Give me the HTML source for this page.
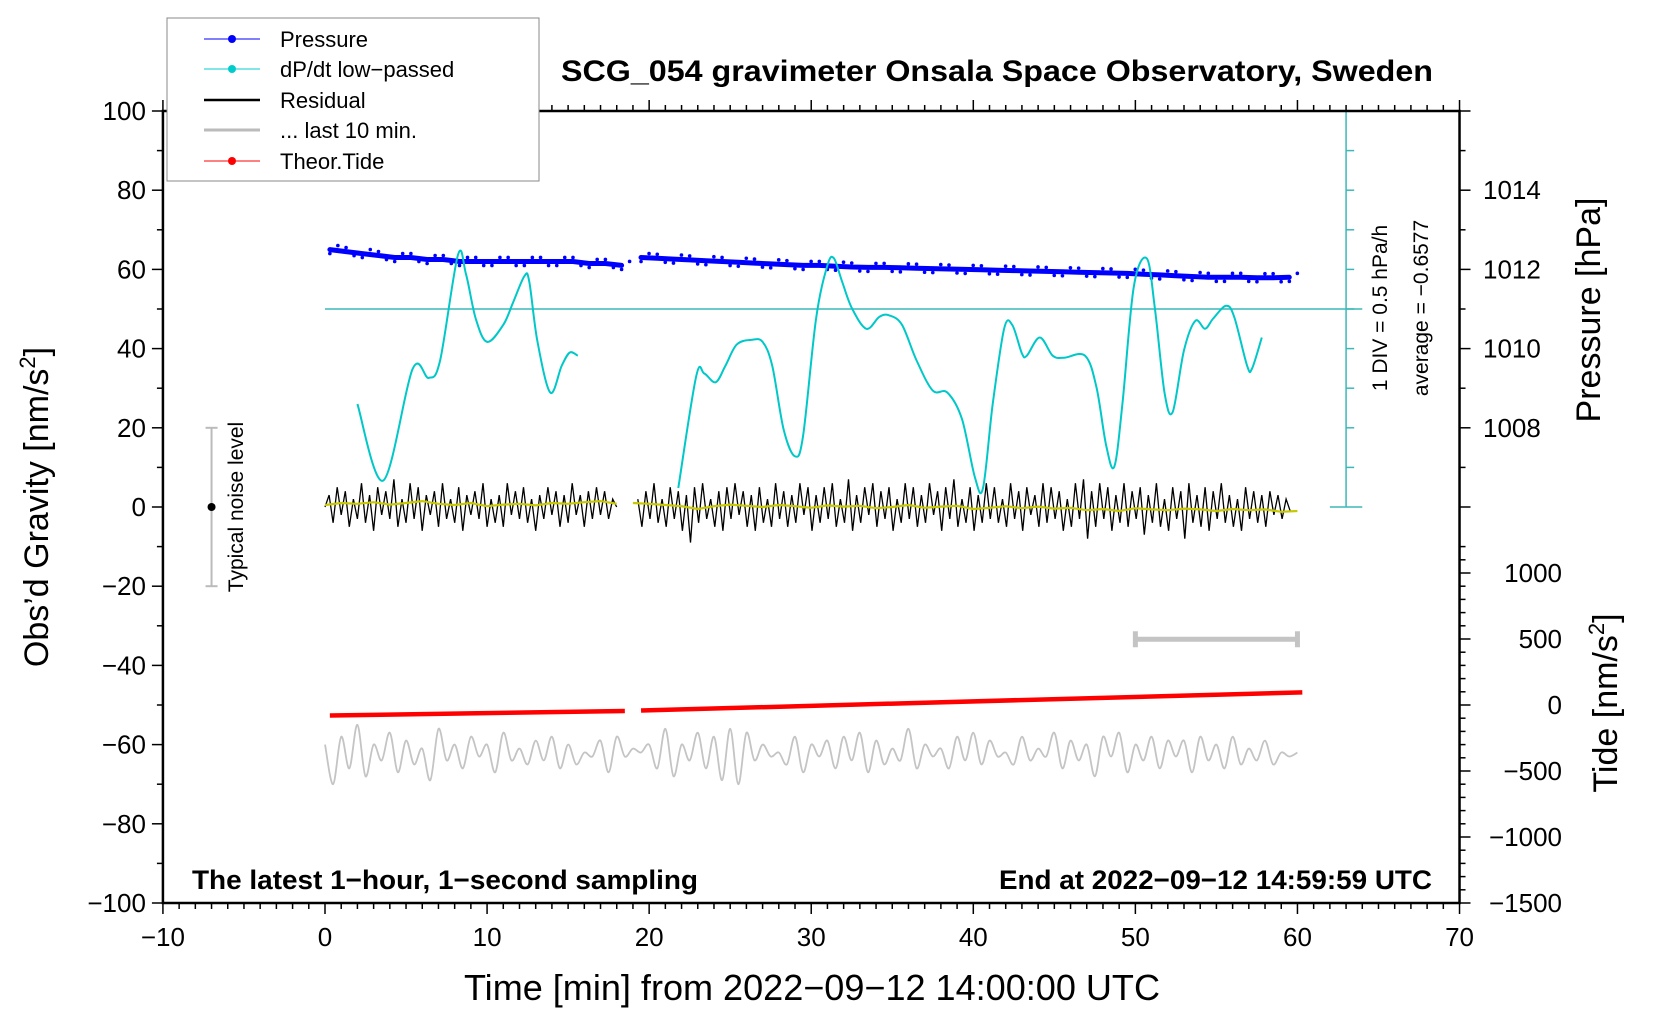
<!DOCTYPE html>
<html><head><meta charset="utf-8"><style>
html,body{margin:0;padding:0;background:#fff;}
svg{display:block;font-family:"Liberation Sans",sans-serif;}
</style></head><body>
<svg id="chart" width="1660" height="1020" viewBox="0 0 1660 1020" xmlns="http://www.w3.org/2000/svg">
<rect x="0" y="0" width="1660" height="1020" fill="#fff"/>
<g id="plot"></g>
<g id="axes"></g>
<text x="997" y="81" text-anchor="middle" font-size="30" font-weight="bold" textLength="872" lengthAdjust="spacingAndGlyphs">SCG_054 gravimeter Onsala Space Observatory, Sweden</text>
<text x="192" y="889" font-size="27" font-weight="bold" textLength="506" lengthAdjust="spacingAndGlyphs">The latest 1−hour, 1−second sampling</text>
<text x="1432" y="889" text-anchor="end" font-size="27" font-weight="bold" textLength="433" lengthAdjust="spacingAndGlyphs">End at 2022−09−12 14:59:59 UTC</text>
<text x="812" y="1000" text-anchor="middle" font-size="36" textLength="696" lengthAdjust="spacingAndGlyphs">Time [min] from 2022−09−12 14:00:00 UTC</text>
<text transform="translate(48,507) rotate(-90)" text-anchor="middle" font-size="34">Obs’d Gravity [nm/s<tspan font-size="22" dy="-13">2</tspan><tspan dy="13">]</tspan></text>
<text transform="translate(1600,310) rotate(-90)" text-anchor="middle" font-size="34">Pressure [hPa]</text>
<text transform="translate(1617,703) rotate(-90)" text-anchor="middle" font-size="34">Tide [nm/s<tspan font-size="22" dy="-13">2</tspan><tspan dy="13">]</tspan></text>
<text transform="translate(1387,308) rotate(-90)" text-anchor="middle" font-size="21">1 DIV = 0.5 hPa/h</text>
<text transform="translate(1428,308) rotate(-90)" text-anchor="middle" font-size="21">average = −0.6577</text>
<text transform="translate(243,507) rotate(-90)" text-anchor="middle" font-size="21">Typical noise level</text>
<g>
<rect x="167" y="18" width="372" height="163" fill="#fff" stroke="#888" stroke-width="1"/>
<line x1="204" y1="39" x2="260" y2="39" stroke="#0000ff" stroke-width="1"/><circle cx="232" cy="39" r="4" fill="#0000ff"/>
<text x="280" y="47" font-size="22">Pressure</text>
<line x1="204" y1="69" x2="260" y2="69" stroke="#00cccc" stroke-width="1"/><circle cx="232" cy="69" r="4" fill="#00cccc"/>
<text x="280" y="77" font-size="22">dP/dt low−passed</text>
<line x1="204" y1="100" x2="260" y2="100" stroke="#000" stroke-width="2.5"/>
<text x="280" y="108" font-size="22">Residual</text>
<line x1="204" y1="130" x2="260" y2="130" stroke="#bbb" stroke-width="3"/>
<text x="280" y="138" font-size="22">... last 10 min.</text>
<line x1="204" y1="161" x2="260" y2="161" stroke="#ff0000" stroke-width="1"/><circle cx="232" cy="161" r="4" fill="#ff0000"/>
<text x="280" y="169" font-size="22">Theor.Tide</text>
</g>
</svg>
<script>
// ---- data ----
const xTicks = [-10,0,10,20,30,40,50,60,70];
const yTicks = [-100,-80,-60,-40,-20,0,20,40,60,80,100];
const pressureTicks = [1008,1010,1012,1014];
const tideTicks = [-1500,-1000,-500,0,500,1000];
// pressure (hPa), one value per minute
const pressure1Start = 0.3;
const pressure1 = [1012.5,1012.45,1012.4,1012.35,1012.3,1012.3,1012.25,1012.25,1012.2,1012.2,1012.2,1012.2,1012.2,1012.2,1012.2,1012.2,1012.15,1012.15,1012.1];
const pressure2Start = 19.5;
const pressure2 = [1012.3,1012.28,1012.26,1012.24,1012.22,1012.2,1012.18,1012.16,1012.14,1012.12,1012.1,1012.1,1012.08,1012.06,1012.05,1012.05,1012.04,1012.03,1012.02,1012.01,1012.0,1011.99,1011.98,1011.97,1011.96,1011.95,1011.94,1011.93,1011.92,1011.91,1011.9,1011.88,1011.86,1011.84,1011.82,1011.8,1011.8,1011.8,1011.79,1011.79,1011.8];
// dP/dt low-passed, plotted in gravity units
const dpdt1X = [2.0,3.6,5.4,6.4,7.1,8.2,8.7,9.3,10.0,11.0,11.6,12.3,12.6,13.1,13.9,14.6,15.1,15.6];
const dpdt1Y = [26,6.7,34.8,32.6,37,63.6,58.8,47.6,41.7,46,51.6,58.3,57,42,28.9,35.6,39,38.2];
const dpdt2X = [21.8,22.9,23.4,24.1,24.7,25.4,26.3,27.0,27.6,28.3,29.0,29.5,30.3,31.0,31.4,31.9,32.5,33.4,34.2,34.8,35.6,36.5,37.5,38.4,39.3,40.1,40.6,41.2,41.9,42.4,43.0,43.3,44.1,44.9,45.6,46.9,47.6,48.2,48.7,49.2,49.9,50.7,51.2,51.8,52.3,53.0,53.7,54.3,54.8,55.6,56.1,56.9,57.2,57.8];
const dpdt2Y = [4.8,33,33.7,31.5,35.6,41,42.2,41.7,35.6,19.5,12.8,18,47.6,61,62.8,57,50.3,45,48,48.4,46,37,29.4,28.9,22.2,7.5,4.8,26,45,46,38.8,38.2,42.8,38.2,37.7,38.2,30.2,15.5,10.2,26,55.6,62.8,50.3,28.9,24,39.6,47,45,47.6,50.8,48,35.6,35,42.8];
// residual (nm/s^2), sampled every 0.25 min
const resStep = 0.25;
const res1Start = 0;
const res1 = [0,3,-4,5,-2,4,-5,2,-3,6,-4,3,-6,5,-2,4,-3,7,-5,2,-4,6,-3,5,-6,3,-2,4,-5,6,-3,2,-4,5,-6,3,-2,4,-3,6,-5,2,-4,3,-5,6,-2,4,-3,5,-4,2,-6,3,-3,5,-2,4,-5,3,-4,6,-2,3,-5,4,-3,5,-2,4,-3,2,0];
const res2Start = 19.3;
const res2 = [2,-5,4,-3,6,-4,2,-5,5,-3,4,-6,3,-9,5,-4,6,-3,2,-5,4,-6,5,-3,6,-2,4,-5,3,-6,5,-4,2,-5,6,-3,4,-5,3,-4,6,-2,5,-6,3,-4,5,-3,6,-5,2,-4,7,-6,3,-4,5,-2,6,-5,4,-3,5,-6,2,-4,6,-3,5,-5,3,-4,6,-2,4,-6,5,-3,7,-5,2,-4,5,-6,3,-4,6,-3,5,-4,2,-5,6,-3,4,-6,5,-2,3,-5,6,-4,5,-3,4,-6,2,-5,6,-3,7,-8,4,-5,6,-3,5,-6,3,-4,6,-5,4,-3,5,-7,3,-4,6,-5,2,-6,5,-3,4,-8,6,-4,3,-5,5,-6,4,-3,6,-4,3,-5,2,-6,5,-3,4,-4,3,-5,4,-2,3,-3,2,-1];
// smoothed residual, one value per minute
const smooth1 = [0.5,1,0.8,1.2,0.6,1,1.5,0.8,0.5,1,0.2,0.6,0.8,0.4,1,0.8,1.2,1.5,0.8];
const smooth2Start = 19;
const smooth2 = [1,0.8,0.5,0.2,-0.5,0.2,0.6,0.3,0,0.5,0.2,-0.2,0.4,0.1,0.3,-0.3,0,0.5,-0.2,0.1,0.3,-0.5,-0.2,0.2,-0.3,0.1,-0.4,-0.2,-0.8,-0.5,-1,-0.3,-0.6,-0.8,-0.4,-0.6,-1,-0.5,-0.8,-0.6,-1.2,-1.0];
// last 10 min residual (plotted offset), every 0.5 min
const lastStep = 0.5;
const last10 = [-60,-70,-58,-66,-55,-68,-60,-64,-57,-67,-59,-65,-61,-69,-56,-64,-60,-66,-58,-63,-60,-67,-57,-64,-61,-65,-59,-64,-58,-66,-60,-65,-62,-63,-59,-67,-58,-63,-61,-62,-60,-66,-56,-68,-60,-64,-57,-66,-58,-69,-56,-70,-57,-64,-60,-63,-62,-65,-58,-67,-60,-63,-59,-66,-58,-64,-57,-67,-59,-65,-61,-64,-56,-66,-60,-63,-61,-66,-58,-64,-57,-65,-59,-63,-62,-65,-58,-64,-61,-63,-57,-66,-59,-64,-60,-68,-58,-63,-57,-67,-60,-64,-58,-66,-59,-63,-59,-67,-58,-64,-60,-66,-58,-65,-61,-64,-59,-65,-62,-63,-62];
// theoretical tide (nm/s^2)
const tideX = [0.3,18.5,19.5,60.3];
const tideY = [-80,-45,-42,96];
// noise bars
const noiseX = -7, noiseLow = -20, noiseHigh = 20;
const rangeX0 = 50, rangeX1 = 60, rangeY = -33.4;

// ---- axes functions ----
const X = x => 325 + (x) * 16.2075;
const Y = g => 507 - g * 3.96;
const P2G = p => (p - 1006) * 10;
const T2G = t => t / 30 - 50;
const NS = 'http://www.w3.org/2000/svg';
const plot = document.getElementById('plot');
const axes = document.getElementById('axes');
function mk(tag, attrs, parent){ const e=document.createElementNS(NS,tag); for(const k in attrs) e.setAttribute(k,attrs[k]); parent.appendChild(e); return e; }
function pathOf(xs, ys){ return xs.map((x,i)=>(i?'L':'M')+X(x).toFixed(1)+' '+Y(ys[i]).toFixed(1)).join(''); }
function smoothPath(xs, ys){
  const P = xs.map((x,i)=>[X(x),Y(ys[i])]);
  let d = 'M'+P[0][0].toFixed(1)+' '+P[0][1].toFixed(1);
  for(let i=0;i<P.length-1;i++){
    const p0=P[Math.max(0,i-1)], p1=P[i], p2=P[i+1], p3=P[Math.min(P.length-1,i+2)];
    const c1=[p1[0]+(p2[0]-p0[0])/6, p1[1]+(p2[1]-p0[1])/6];
    const c2=[p2[0]-(p3[0]-p1[0])/6, p2[1]-(p3[1]-p1[1])/6];
    d += 'C'+c1[0].toFixed(1)+' '+c1[1].toFixed(1)+' '+c2[0].toFixed(1)+' '+c2[1].toFixed(1)+' '+p2[0].toFixed(1)+' '+p2[1].toFixed(1);
  }
  return d;
}

// pressure
[[pressure1Start,pressure1],[pressure2Start,pressure2]].forEach(([s,arr])=>{
  const xs = arr.map((v,i)=>s+i);
  const ys = arr.map(P2G);
  const p = mk('path',{d:pathOf(xs,ys),fill:'none',stroke:'#0000ff','stroke-width':5,'stroke-linecap':'round'},plot);
  
  
  arr.forEach((v,i)=>{
    [-4,4].forEach((o,j)=>{
      const c = mk('circle',{cx:X(xs[i])+(j?8:0),cy:Y(P2G(v))+((i%2)?o:-o),r:1.8,fill:'#0000ff'},plot);
      
      
    });
  });
});

// dpdt reference line and axis
const ref = mk('line',{x1:X(0),y1:Y(50),x2:X(64),y2:Y(50),stroke:'#3cb8b8','stroke-width':1.5},plot);


const dax = mk('line',{x1:X(63),y1:Y(0),x2:X(63),y2:Y(100),stroke:'#3cb8b8','stroke-width':1.5},plot);


for(let g=0; g<=100; g+=10){
  const e = (g===0||g===100) ? [62,64] : [63,63.5];
  const t = mk('line',{x1:X(e[0]),y1:Y(g),x2:X(e[1]),y2:Y(g),stroke:'#3cb8b8','stroke-width':1.5},plot);
  
  
}
[[dpdt1X,dpdt1Y],[dpdt2X,dpdt2Y]].forEach(([xs,ys])=>{
  const p = mk('path',{d:smoothPath(xs,ys),fill:'none',stroke:'#00c8c8','stroke-width':2,'stroke-linejoin':'round'},plot);
  
  
});

// residual
[[res1Start,res1],[res2Start,res2]].forEach(([s,arr])=>{
  const xs = arr.map((v,i)=>s+i*resStep);
  const p = mk('path',{d:pathOf(xs,arr),fill:'none',stroke:'#000','stroke-width':1.3},plot);
  
  
});
[[0,smooth1],[smooth2Start,smooth2]].forEach(([s,arr])=>{
  const xs = arr.map((v,i)=>s+i);
  const p = mk('path',{d:pathOf(xs,arr),fill:'none',stroke:'#c8c800','stroke-width':2.2},plot);
  
  
});

// last 10 min
{
  const xs = last10.map((v,i)=>i*lastStep);
  const p = mk('path',{d:smoothPath(xs,last10),fill:'none',stroke:'#c4c4c4','stroke-width':1.8},plot);
  
  
}

// tide
[[0,1],[2,3]].forEach(([a,b])=>{
  const p = mk('line',{x1:X(tideX[a]),y1:Y(T2G(tideY[a])),x2:X(tideX[b]),y2:Y(T2G(tideY[b])),stroke:'#ff0000','stroke-width':4.5},plot);
  
  
});

// noise bar
{
  const g = mk('g',{stroke:'#bbb','stroke-width':2},plot);
  
  
  mk('line',{x1:X(noiseX),y1:Y(noiseLow),x2:X(noiseX),y2:Y(noiseHigh)},g);
  mk('line',{x1:X(noiseX)-6,y1:Y(noiseLow),x2:X(noiseX)+6,y2:Y(noiseLow)},g);
  mk('line',{x1:X(noiseX)-6,y1:Y(noiseHigh),x2:X(noiseX)+6,y2:Y(noiseHigh)},g);
  const c = mk('circle',{cx:X(noiseX),cy:Y(0),r:4,fill:'#000',stroke:'none'},plot);
  
  
  const r = mk('g',{stroke:'#c4c4c4','stroke-width':5},plot);
  
  
  mk('line',{x1:X(rangeX0),y1:Y(rangeY),x2:X(rangeX1),y2:Y(rangeY)},r);
  mk('line',{x1:X(rangeX0),y1:Y(rangeY)-8,x2:X(rangeX0),y2:Y(rangeY)+8},r);
  mk('line',{x1:X(rangeX1),y1:Y(rangeY)-8,x2:X(rangeX1),y2:Y(rangeY)+8},r);
}

// frame
const fr = mk('rect',{x:X(-10),y:Y(100),width:X(70)-X(-10),height:Y(-100)-Y(100),fill:'none',stroke:'#000','stroke-width':2.5},axes);


for(let x=-10;x<=70;x++){
  const L = x%10===0?11:6;
  mk('line',{x1:X(x),y1:Y(-100),x2:X(x),y2:Y(-100)+L,stroke:'#000','stroke-width':1.5},axes);
  mk('line',{x1:X(x),y1:Y(100),x2:X(x),y2:Y(100)-L,stroke:'#000','stroke-width':1.5},axes);
}
xTicks.forEach(x=>{
  const t = mk('text',{x:X(x),y:946,'text-anchor':'middle','font-size':26},axes);
  t.textContent = String(x).replace('-','−');
  
  
});
for(let g=-100;g<=100;g+=10){
  const L = g%20===0?11:6;
  mk('line',{x1:X(-10),y1:Y(g),x2:X(-10)-L,y2:Y(g),stroke:'#000','stroke-width':1.5},axes);
}
yTicks.forEach(g=>{
  const t = mk('text',{x:X(-10)-17,y:Y(g)+9,'text-anchor':'end','font-size':26},axes);
  t.textContent = String(g).replace('-','−');
  
  
});
for(let p=1006;p<=1016;p++){
  const L = p%2===0?11:6;
  mk('line',{x1:X(70),y1:Y(P2G(p)),x2:X(70)+L,y2:Y(P2G(p)),stroke:'#000','stroke-width':1.5},axes);
}
pressureTicks.forEach(p=>{
  const t = mk('text',{x:1483,y:Y(P2G(p))+9,'font-size':26},axes);
  t.textContent = p;
  
  
});
for(let t=-1500;t<=1200;t+=100){
  const L = t%500===0?11:6;
  mk('line',{x1:X(70),y1:Y(T2G(t)),x2:X(70)+L,y2:Y(T2G(t)),stroke:'#000','stroke-width':1.5},axes);
}
tideTicks.forEach(v=>{
  const t = mk('text',{x:1562,y:Y(T2G(v))+9,'text-anchor':'end','font-size':26},axes);
  t.textContent = String(v).replace('-','−');
  
  
});
</script>
</body></html>
